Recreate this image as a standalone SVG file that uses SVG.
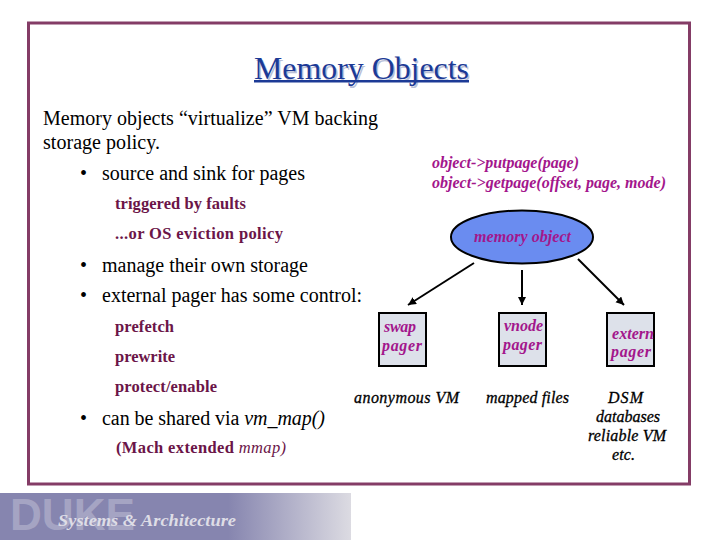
<svg xmlns="http://www.w3.org/2000/svg" width="720" height="540" viewBox="0 0 720 540">
<style>
text{font-family:"Liberation Serif","Times New Roman",serif}
.b{font-size:20px;fill:#000}
.s{font-size:16.500px;font-weight:bold;fill:#6b1548}
.m{font-size:16px;font-style:italic;font-weight:bold;fill:#a3168c}
.k{font-size:16px;font-style:italic;fill:#000;stroke:#000;stroke-width:.3}
.box{fill:#dde1ea;stroke:#000;stroke-width:2}
.c{stroke:#000;stroke-width:2;fill:none;marker-end:url(#a)}
.duke{font-family:"Liberation Sans",Arial,sans-serif;font-size:44px;font-weight:bold;fill:#a5a4c3}
</style>
<defs>
<marker id="a" markerUnits="userSpaceOnUse" markerWidth="12" markerHeight="12" refX="8" refY="4" orient="auto"><path d="M0 0L8 4L0 8z" fill="#000"/></marker>
<linearGradient id="g" x1="0" x2="1" y1="0" y2="0"><stop offset="0" stop-color="#8685af"/><stop offset=".65" stop-color="#8685af"/><stop offset="1" stop-color="#dcdbe2"/></linearGradient>
</defs>
<rect width="720" height="540" fill="#fff"/>
<rect x="28.500" y="23" width="661" height="461" fill="none" stroke="#843c66" stroke-width="3"/>
<text x="255.500" y="80.500" font-size="31" fill="#b9c0d8" textLength="215" lengthAdjust="spacingAndGlyphs">Memory Objects</text>
<text x="254" y="79" font-size="31" fill="#1c3a96" textLength="215" lengthAdjust="spacingAndGlyphs">Memory Objects</text>
<rect x="254" y="80" width="215" height="2.500" fill="#1c3a96"/>
<text class="b" x="43" y="125" textLength="335">Memory objects “virtualize” VM backing</text>
<text class="b" x="43" y="149" textLength="117">storage policy.</text>
<text class="b" x="80" y="180">•</text>
<text class="b" x="102" y="180" textLength="203">source and sink for pages</text>
<text class="s" x="115" y="209" textLength="131">triggered by faults</text>
<text class="s" x="115" y="239" textLength="168">...or OS eviction policy</text>
<text class="b" x="80" y="272">•</text>
<text class="b" x="102" y="272" textLength="206">manage their own storage</text>
<text class="b" x="80" y="302">•</text>
<text class="b" x="102" y="302" textLength="260">external pager has some control:</text>
<text class="s" x="115" y="332" textLength="59">prefetch</text>
<text class="s" x="115" y="362" textLength="60">prewrite</text>
<text class="s" x="115" y="392" textLength="102">protect/enable</text>
<text class="b" x="80" y="425">•</text>
<text class="b" x="102" y="425" textLength="223">can be shared via <tspan font-style="italic">vm_map()</tspan></text>
<text class="s" x="116" y="453" textLength="170">(Mach extended <tspan font-weight="normal" font-style="italic">mmap)</tspan></text>
<text class="m" x="432" y="168" textLength="147">object-&gt;putpage(page)</text>
<text class="m" x="432" y="188" textLength="234">object-&gt;getpage(offset, page, mode)</text>
<g id="connectors">
<path class="c" d="M474 263L408 305"/>
<path class="c" d="M522 270V305"/>
<path class="c" d="M578 259L624 305"/>
</g>
<g id="memory-object">
<ellipse cx="522" cy="237" rx="71" ry="26.500" fill="#6a8cf0" stroke="#000" stroke-width="2"/>
<text class="m" x="474" y="242" textLength="97">memory object</text>
</g>
<g id="swap-pager">
<rect class="box" x="379" y="313" width="47" height="53"/>
<text class="m" x="384" y="332" textLength="32">swap</text>
<text class="m" x="382" y="351" textLength="40">pager</text>
</g>
<g id="vnode-pager">
<rect class="box" x="499" y="313" width="47" height="53"/>
<text class="m" x="504" y="331" textLength="39">vnode</text>
<text class="m" x="503" y="350" textLength="39">pager</text>
</g>
<g id="extern-pager">
<rect class="box" x="607" y="313" width="47" height="53"/>
<text class="m" x="612" y="339" textLength="42">extern</text>
<text class="m" x="611" y="357" textLength="40">pager</text>
</g>
<text class="k" x="354" y="403" textLength="105">anonymous VM</text>
<text class="k" x="486" y="403" textLength="83">mapped files</text>
<text class="k" x="608" y="403" textLength="35">DSM</text>
<text class="k" x="596" y="422" textLength="64">databases</text>
<text class="k" x="588" y="441" textLength="78">reliable VM</text>
<text class="k" x="612" y="460" textLength="23">etc.</text>
<rect x="0" y="493" width="351" height="47" fill="url(#g)"/>
<text class="duke" x="10" y="530" textLength="125" lengthAdjust="spacingAndGlyphs">DUKE</text>
<text x="58" y="526" font-size="16.500" font-style="italic" font-weight="bold" fill="#dedde6" textLength="178" lengthAdjust="spacingAndGlyphs">Systems &amp; Architecture</text>
</svg>
